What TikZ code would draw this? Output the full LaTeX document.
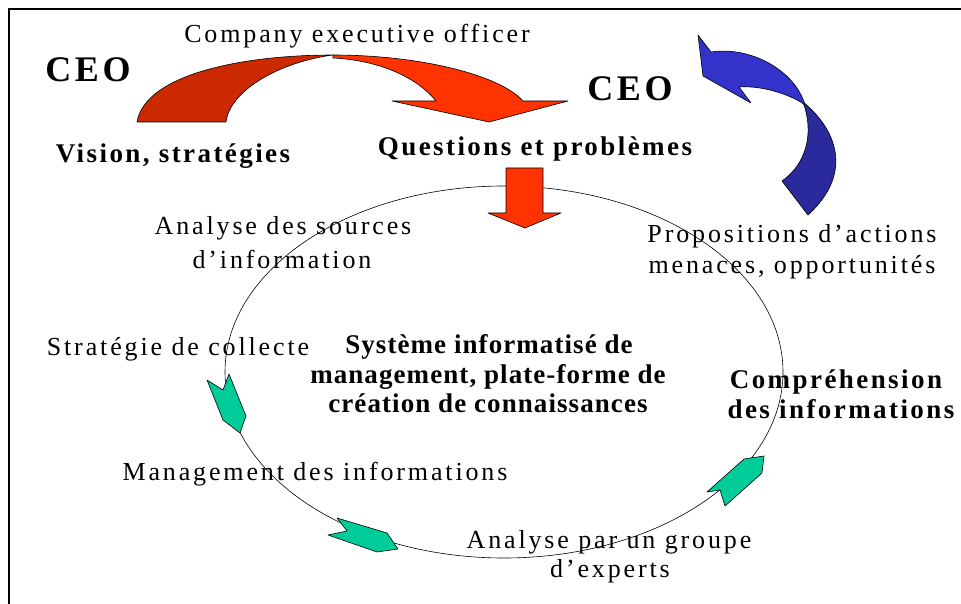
\documentclass[tikz,border=0pt]{standalone}
\usepackage{fontspec}
\setmainfont{Liberation Serif}
\newfontfamily\lsreg[LetterSpace=11]{Liberation Serif}
\newfontfamily\lsbold[LetterSpace=9]{Liberation Serif}
\newfontfamily\lsceo[LetterSpace=10]{Liberation Serif}
\newfontfamily\lsmid[LetterSpace=4]{Liberation Serif}
\definecolor{redlight}{HTML}{FF3300}
\definecolor{reddark}{HTML}{CC2900}
\definecolor{bluelight}{HTML}{3333CC}
\definecolor{bluedark}{HTML}{2A2A9C}
\definecolor{greenarr}{HTML}{00CC99}
\begin{document}
\begin{tikzpicture}[x=1pt,y=-1pt,
  lbl/.style={inner sep=0pt, anchor=base, font=\lsreg\fontsize{26}{30}\selectfont},
  blbl/.style={inner sep=0pt, anchor=base, font=\lsbold\bfseries\fontsize{27}{30}\selectfont},
  clbl/.style={inner sep=0pt, anchor=base, font=\lsmid\bfseries\fontsize{27}{30}\selectfont},
  ceo/.style={inner sep=0pt, anchor=base, font=\lsceo\bfseries\fontsize{36}{40}\selectfont},
  shapeline/.style={draw=black, line width=0.6pt, line join=round},
  cyclearr/.style={shapeline, fill=greenarr}]
\useasboundingbox (0,0) rectangle (961,604);
\fill[white] (0,0) rectangle (961,604);
% frame
\draw[line width=2pt] (9,640) -- (9,9) -- (990,9);
% cycle ellipse
\draw[line width=0.6pt] (504,372) ellipse [x radius=279, y radius=186];
% red curved arrow
\fill[reddark, shapeline] (137,122) .. controls (145,75) and (240,55) .. (333,55)
  .. controls (280,62) and (230,90) .. (226,122) -- cycle;
\fill[redlight, shapeline] (333,55) .. controls (420,55) and (500,75) .. (523,101)
  -- (568,101) -- (489,122) -- (392,101) -- (436,101)
  .. controls (415,75) and (375,60) .. (333,58) -- cycle;
% blue curved arrow
\fill[bluedark, shapeline] (803,102) .. controls (835,128) and (855,172) .. (808,215)
  -- (782,181) .. controls (805,165) and (815,135) .. (803,102) -- cycle;
\fill[bluelight, shapeline] (711,52) .. controls (750,46) and (795,70) .. (805,105)
  .. controls (795,97) and (765,85) .. (739,87) -- (751,103) -- (703,76) -- (698,35) -- cycle;
% red down arrow
\fill[redlight, shapeline] (506,168) -- (543,168) -- (543,213) -- (561,213) -- (525,228)
  -- (488,213) -- (506,213) -- cycle;
% green cycle arrows
\fill[cyclearr] (207,380) -- (223,390) -- (229,374) -- (246,416) -- (240,433) -- (223,420) -- cycle;
\fill[cyclearr] (337,518) -- (347,531) -- (328,535) -- (377,552) -- (398,549) -- (387,533) -- cycle;
\fill[cyclearr] (707,492) -- (720,490) -- (725,506) -- (762,473) -- (764,456) -- (744,459) -- cycle;
% texts
\node[lbl] (company) at (357,43) {Company executive officer};
\node[ceo] (ceo1) at (88,82) {CEO};
\node[ceo] (ceo2) at (630,101) {CEO};
\node[blbl] (vision) at (173,163) {Vision, stratégies};
\node[blbl] (questions) at (535,156) {Questions et problèmes};
\node[lbl] (sources1) at (283,235) {Analyse des sources};
\node[lbl] (sources2) at (282,268) {d’information};
\node[lbl] (collecte) at (178,355) {Stratégie de collecte};
\node[clbl] (sys1) at (489,353) {Système informatisé de};
\node[clbl] (sys2) at (488,383) {management, plate-forme de};
\node[clbl] (sys3) at (488,412) {création de connaissances};
\node[blbl] (compr1) at (836,388) {Compréhension};
\node[blbl] (compr2) at (841,418) {des informations};
\node[lbl] (prop1) at (792,242) {Propositions d’actions};
\node[lbl] (prop2) at (792,273) {menaces, opportunités};
\node[lbl] (mgmt) at (315,480) {Management des informations};
\node[lbl] (experts1) at (609,548) {Analyse par un groupe};
\node[lbl] (experts2) at (610,577) {d’experts};
\end{tikzpicture}
\end{document}
